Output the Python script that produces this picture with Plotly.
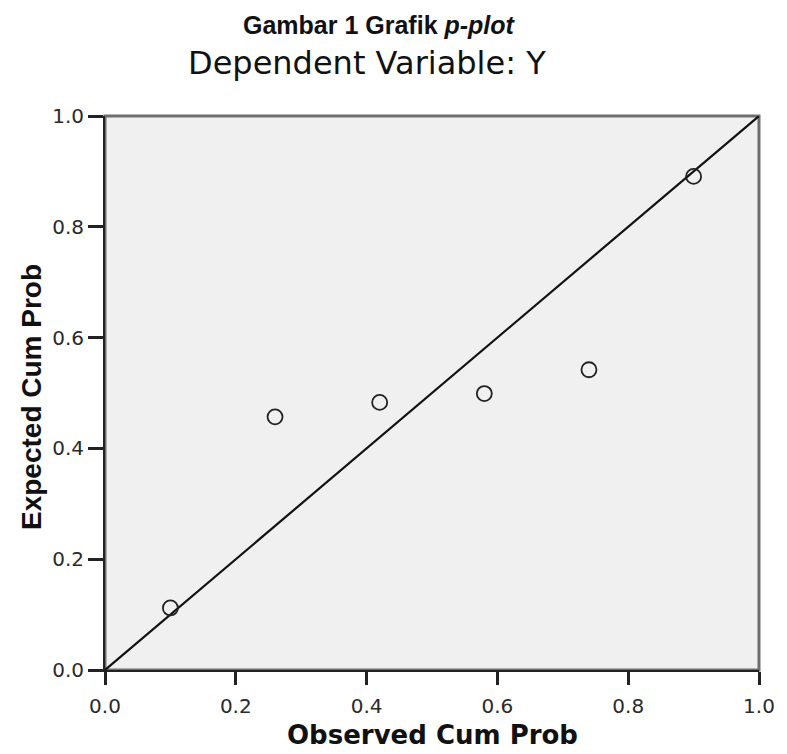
import plotly.graph_objects as go

# Data
observed_cum_prob = [0.10, 0.26, 0.42, 0.58, 0.74, 0.90]
expected_cum_prob = [0.112, 0.457, 0.483, 0.499, 0.542, 0.891]
ref_line_x = [0.0, 1.0]
ref_line_y = [0.0, 1.0]
tick_vals = [0.0, 0.2, 0.4, 0.6, 0.8, 1.0]
tick_text = ["0.0", "0.2", "0.4", "0.6", "0.8", "1.0"]

TICK_FONT = dict(family="DejaVu Sans, Verdana, sans-serif", size=20, color="#2a2a2a")

fig = go.Figure()
fig.add_trace(go.Scatter(
    x=ref_line_x, y=ref_line_y, mode="lines",
    line=dict(color="#111111", width=2.2), hoverinfo="skip", showlegend=False))
fig.add_trace(go.Scatter(
    x=observed_cum_prob, y=expected_cum_prob, mode="markers",
    marker=dict(symbol="circle-open", size=15, color="#222222", line=dict(width=1.8)),
    showlegend=False))

# The page body has an 8px default margin, so the figure is sized to fit the window.
fig.update_layout(
    width=779, height=746,
    margin=dict(l=97, r=16, t=108, b=84),
    paper_bgcolor="white", plot_bgcolor="#f0f0f0",
    xaxis=dict(range=[0, 1], tickvals=tick_vals, ticktext=tick_text,
               showgrid=False, zeroline=False, ticks="outside", ticklen=13, tickwidth=2.5,
               tickcolor="#222222", showline=True, linecolor="#222222", linewidth=2,
               ticklabelstandoff=4, tickfont=TICK_FONT),
    yaxis=dict(range=[0, 1], tickvals=tick_vals, ticktext=tick_text,
               showgrid=False, zeroline=False, ticks="outside", ticklen=15, tickwidth=2.5,
               tickcolor="#222222", showline=True, linecolor="#222222", linewidth=2,
               tickfont=TICK_FONT),
    shapes=[dict(type="rect", xref="x domain", yref="y domain", x0=0, y0=0, x1=1, y1=1,
                 line=dict(color="#6e6e6e", width=3), layer="below")],
    annotations=[
        dict(text="<b>Gambar 1 Grafik <i>p-plot</i></b>", xref="paper", yref="paper",
             x=0.420, y=1, yshift=91, xanchor="center", yanchor="middle", showarrow=False,
             font=dict(family="Liberation Sans, Arial, sans-serif", size=25, color="#111111")),
        dict(text="Dependent Variable: Y", xref="paper", yref="paper",
             x=0.401, y=1, yshift=53, xanchor="center", yanchor="middle", showarrow=False,
             font=dict(family="DejaVu Sans, Verdana, sans-serif", size=32, color="#111111")),
        dict(text="<b>Observed Cum Prob</b>", xref="paper", yref="paper",
             x=0.5, y=0, yshift=-82, xanchor="center", yanchor="bottom", showarrow=False,
             font=dict(family="DejaVu Sans, Verdana, sans-serif", size=26, color="#111111")),
        dict(text="<b>Expected Cum Prob</b>", xref="paper", yref="paper",
             x=0, y=0.5, xshift=-74, yshift=-4, xanchor="center", yanchor="middle",
             showarrow=False, textangle=-90,
             font=dict(family="Liberation Sans, Arial, sans-serif", size=28, color="#111111")),
    ],
)

fig.write_html("out.html")
